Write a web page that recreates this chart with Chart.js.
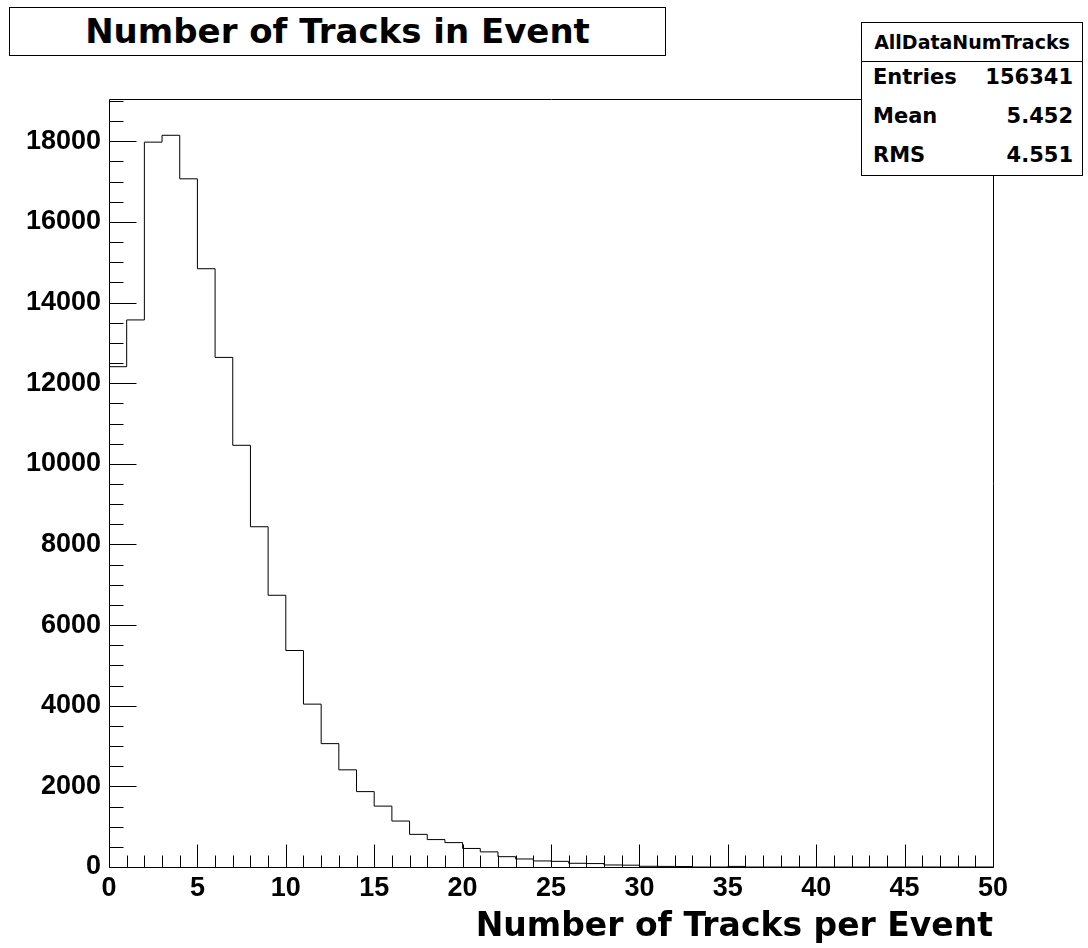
<!DOCTYPE html>
<html>
<head>
<meta charset="utf-8">
<title>Number of Tracks in Event</title>
<script src="https://cdn.jsdelivr.net/npm/chart.js@4.4.1/dist/chart.umd.min.js"></script>
<style>
  html, body { margin: 0; padding: 0; background: #fff; }
  body { width: 1088px; height: 948px; position: relative; overflow: hidden; }
  #plot { position: absolute; left: 0; top: 0; width: 1088px; height: 948px; }
  .box {
    position: absolute; background: #fff; border: 1px solid #000; box-sizing: border-box;
    font-family: "DejaVu Sans", sans-serif; font-weight: bold; color: #000;
  }
  #title { left: 9px; top: 7px; width: 657px; height: 49px; font-size: 34px; line-height: 47px; text-align: center; }
  #stats { left: 861px; top: 22px; width: 222px; height: 154px; }
  #stats .head { height: 38px; line-height: 38px; border-bottom: 1px solid #000; text-align: center; font-size: 19px; }
  #stats .row { position: absolute; left: 11px; right: 9px; height: 38px; line-height: 38px; font-size: 21px; }
  #stats .row span { float: right; }
</style>
</head>
<body>
<canvas id="plot" width="1088" height="948"></canvas>
<div id="title" class="box"></div>
<div id="stats" class="box">
  <div class="head" id="statsName"></div>
  <div class="row" style="top:35px">Entries<span id="statEntries"></span></div>
  <div class="row" style="top:74px">Mean<span id="statMean"></span></div>
  <div class="row" style="top:113px">RMS<span id="statRms"></span></div>
</div>
<script>
// histogram: 50 bins of width 1 from 0 to 50
const xMin = 0;
const xMax = 50;
const counts = [
  12410, 13570, 17980, 18150, 17070, 14840, 12640, 10460, 8440, 6740,
  5370, 4040, 3060, 2410, 1870, 1510, 1140, 810, 680, 605,
  460, 375, 256, 199, 150, 140, 92, 85, 50, 45,
  18, 15, 12, 0, 0, 15, 0, 0, 0, 0,
  0, 0, 0, 0, 0, 0, 0, 0, 0, 0
];
const xTicks = [0, 5, 10, 15, 20, 25, 30, 35, 40, 45, 50];
const yTicks = [0, 2000, 4000, 6000, 8000, 10000, 12000, 14000, 16000, 18000];
const yMax = 19050;   // ROOT puts the top at 1.05 x the highest bin

const titleText = 'Number of Tracks in Event';
const xTitle = 'Number of Tracks per Event';
const statsName = 'AllDataNumTracks';
const statEntries = '156341';
const statMean = '5.452';
const statRms = '4.551';

document.getElementById('title').textContent = titleText;
document.getElementById('statsName').textContent = statsName;
document.getElementById('statEntries').textContent = statEntries;
document.getElementById('statMean').textContent = statMean;
document.getElementById('statRms').textContent = statRms;

// step points at the low edge of each bin
const binWidth = (xMax - xMin) / counts.length;
let points = [{x: xMin, y: 0}];
counts.forEach(function(c, i) {
    points.push({x: xMin + i * binWidth, y: c});
});
points.push({x: xMax, y: counts[counts.length - 1]});

// ROOT style frame with ticks pointing inwards
const rootFrame = {
    id: 'rootFrame',
    afterDatasetsDraw(chart) {
        const ctx = chart.ctx;
        const a = chart.chartArea;
        const x = chart.scales.x, y = chart.scales.y;
        const L = Math.round(a.left) + 0.5, R = Math.round(a.right) + 0.5;
        const T = Math.round(a.top) + 0.5, B = Math.round(a.bottom) + 0.5;
        ctx.save();
        ctx.strokeStyle = '#000';
        ctx.lineWidth = 1;
        ctx.beginPath();
        ctx.rect(L, T, R - L, B - T);
        for (let v = xMin; v <= xMax; v += 1) {
            const px = Math.round(x.getPixelForValue(v)) + 0.5;
            const len = (v % 5 === 0) ? 23 : 12;
            ctx.moveTo(px, B);
            ctx.lineTo(px, B - len);
        }
        for (let v = 0; v <= yMax; v += 500) {
            const py = Math.round(y.getPixelForValue(v)) + 0.5;
            const len = (v % 2000 === 0) ? 27 : 14;
            ctx.moveTo(L, py);
            ctx.lineTo(L + len, py);
        }
        ctx.stroke();
        ctx.restore();
    }
};

const tickFont = { family: 'Liberation Sans', size: 27, weight: 'bold' };

const ctx = document.getElementById('plot');
const myChart = new Chart(ctx, {
    type: 'line',
    data: {
        datasets: [{
            label: statsName,
            data: points,
            stepped: 'before',
            borderColor: '#000',
            borderWidth: 1,
            pointRadius: 0,
            fill: false,
            tension: 0
        }]
    },
    options: {
        responsive: false,
        devicePixelRatio: 1,
        animation: false,
        layout: { padding: { top: 99, right: 95, bottom: 0, left: 0 } },
        plugins: {
            legend: { display: false },
            tooltip: { enabled: false },
            title: { display: false }
        },
        scales: {
            x: {
                type: 'linear',
                min: xMin,
                max: xMax,
                afterFit: function(s) { s.height = 81; },
                afterBuildTicks: function(s) { s.ticks = xTicks.map(v => ({value: v})); },
                grid: { display: false, drawTicks: false },
                border: { display: false },
                ticks: {
                    color: '#000', font: tickFont, padding: 5,
                    autoSkip: false, maxRotation: 0,
                    callback: v => String(v)
                },
                title: {
                    display: true,
                    text: xTitle,
                    align: 'end',
                    color: '#000',
                    font: { family: 'DejaVu Sans', size: 33, weight: 'bold' },
                    padding: { top: 0, bottom: 1 }
                }
            },
            y: {
                type: 'linear',
                min: 0,
                max: yMax,
                afterFit: function(s) { s.width = 109; },
                afterBuildTicks: function(s) { s.ticks = yTicks.map(v => ({value: v})); },
                grid: { display: false, drawTicks: false },
                border: { display: false },
                ticks: {
                    color: '#000', font: tickFont, padding: 8,
                    autoSkip: false,
                    callback: v => String(v)
                }
            }
        }
    },
    plugins: [rootFrame]
});
</script>
</body>
</html>
